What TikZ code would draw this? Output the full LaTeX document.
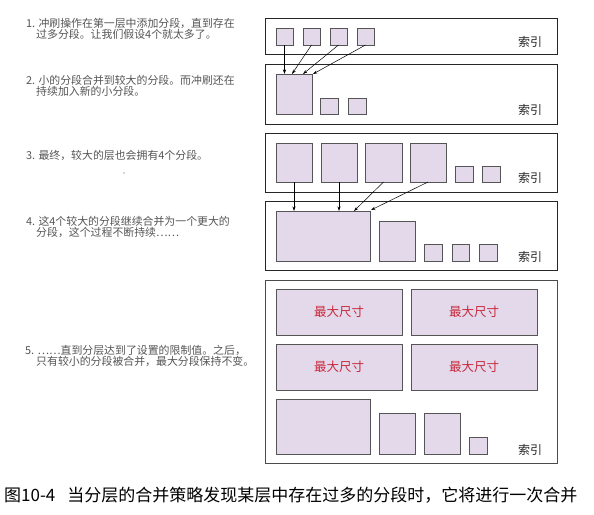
\documentclass[tikz,border=0pt]{standalone}
\usepackage{fontspec}
\setmainfont{Noto Sans CJK SC}
\newfontfamily\cjk{Noto Sans CJK SC}
\usetikzlibrary{arrows.meta}
\definecolor{segfill}{HTML}{E4D9EA}
\definecolor{segline}{HTML}{555555}
\definecolor{txtgray}{HTML}{555555}
\definecolor{maxred}{HTML}{C8283C}
\tikzset{
  panel/.style={draw=black!85, line width=0.8pt},
  seg/.style={draw=segline, fill=segfill, line width=0.8pt, inner sep=0pt, outer sep=0pt, anchor=north west},
  arr/.style={-{Stealth[length=4.5pt,width=3pt]}, line width=0.5pt, black},
  desc/.style={anchor=west, inner sep=0pt, text=txtgray, font=\cjk\fontsize{10.9}{12}\selectfont},
  idx/.style={anchor=center, inner sep=0pt, text=black!85, font=\cjk\fontsize{12}{14}\selectfont},
  maxlbl/.style={text=maxred, font=\cjk\fontsize{12.5}{14}\selectfont}
}
\newcommand{\segbox}[5]{\node[seg, minimum width=#4pt, minimum height=#5pt] (#1) at (#2,#3) {};}
\begin{document}
\begin{tikzpicture}[x=1pt,y=-1pt]
\useasboundingbox (0,0) rectangle (594,514);
\fill[white] (0,0) rectangle (594,514);

% panels
\node[panel, inner sep=0pt, anchor=north west, minimum width=292pt, minimum height=36pt] (p1) at (265,18) {};
\node[panel, inner sep=0pt, anchor=north west, minimum width=292pt, minimum height=60pt] (p2) at (265,64) {};
\node[panel, inner sep=0pt, anchor=north west, minimum width=292pt, minimum height=59pt] (p3) at (265,133) {};
\node[panel, inner sep=0pt, anchor=north west, minimum width=292pt, minimum height=69pt] (p4) at (265,201) {};
\node[panel, draw=black!70, inner sep=0pt, anchor=north west, minimum width=292pt, minimum height=183pt] (p5) at (265,280) {};

% panel 1
\segbox{a1}{276}{28}{17}{17}
\segbox{a2}{303}{28}{17}{17}
\segbox{a3}{330}{28}{17}{17}
\segbox{a4}{357}{28}{17}{17}
\node[idx] (i1) at (530,42) {索引};

% panel 2
\segbox{b1}{276}{74}{36}{40}
\segbox{b2}{320}{98}{18}{16}
\segbox{b3}{348}{98}{18}{16}
\node[idx] (i2) at (530,110) {索引};
\coordinate (b1t2) at (292,74);
\coordinate (b1t3) at (303,74);
\coordinate (b1t4) at (313,74);
\draw[arr] (a1.south) -- (a1.south |- b1.north);
\draw[arr] (a2.south) -- (b1t2);
\draw[arr] (a3.south) -- (b1t3);
\draw[arr] (a4.south) -- (b1t4);

% panel 3
\segbox{c1}{276}{143}{36}{39}
\segbox{c2}{321}{143}{36}{39}
\segbox{c3}{365}{143}{37}{39}
\segbox{c4}{410}{143}{36}{39}
\segbox{c5}{455}{166}{18}{16}
\segbox{c6}{482}{166}{18}{16}
\node[idx] (i3) at (530,178) {索引};

% panel 4
\segbox{d1}{276}{211}{94}{50}
\segbox{d2}{379}{221}{36}{40}
\segbox{d3}{424}{244}{18}{17}
\segbox{d4}{452}{244}{17}{17}
\segbox{d5}{479}{244}{18}{17}
\node[idx] (i4) at (530,257) {索引};
\coordinate (d1t3) at (354,211);
\coordinate (d1t4) at (371,210);
\draw[arr] (c1.south) -- (c1.south |- d1.north);
\draw[arr] (c2.south) -- (c2.south |- d1.north);
\draw[arr] (c3.south) -- (d1t3);
\draw[arr] (c4.south) -- (d1t4);

% panel 5
\node[seg, minimum width=126pt, minimum height=46pt] (e1) at (276,289) {};
\node[maxlbl] (m1) at (e1.center) {最大尺寸};
\node[seg, minimum width=126pt, minimum height=46pt] (e2) at (411,289) {};
\node[maxlbl] (m2) at (e2.center) {最大尺寸};
\node[seg, minimum width=126pt, minimum height=46pt] (e3) at (276,344) {};
\node[maxlbl] (m3) at (e3.center) {最大尺寸};
\node[seg, minimum width=126pt, minimum height=46pt] (e4) at (411,344) {};
\node[maxlbl] (m4) at (e4.center) {最大尺寸};
\segbox{f1}{276}{399}{94}{55}
\segbox{f2}{379}{413}{36}{41}
\segbox{f3}{424}{413}{36}{41}
\segbox{f4}{469}{437}{18}{17}
\node[idx] (i5) at (530,450) {索引};

% descriptions
\node[desc] (t1a) at (26,23) {1. 冲刷操作在第一层中添加分段，直到存在};
\node[desc] (t1b) at (36,34) {过多分段。让我们假设4个就太多了。};
\node[desc] (t2a) at (26,80) {2. 小的分段合并到较大的分段。而冲刷还在};
\node[desc] (t2b) at (36,91) {持续加入新的小分段。};
\node[desc] (t3a) at (26,155) {3. 最终，较大的层也会拥有4个分段。};
\fill[txtgray] (124,173) circle (0.6);
\node[desc] (t4a) at (26,221) {4. 这4个较大的分段继续合并为一个更大的};
\node[desc] (t4b) at (36,232) {分段，这个过程不断持续⋯⋯};
\node[desc] (t5a) at (25,350) {5. ⋯⋯直到分层达到了设置的限制值。之后，};
\node[desc] (t5b) at (36,361) {只有较小的分段被合并，最大分段保持不变。};

% caption
\node[anchor=west, inner sep=0pt, font=\cjk\fontsize{17}{19}\selectfont] (cap) at (4,495) {图10-4\hspace{12pt}当分层的合并策略发现某层中存在过多的分段时，它将进行一次合并};
\end{tikzpicture}
\end{document}
